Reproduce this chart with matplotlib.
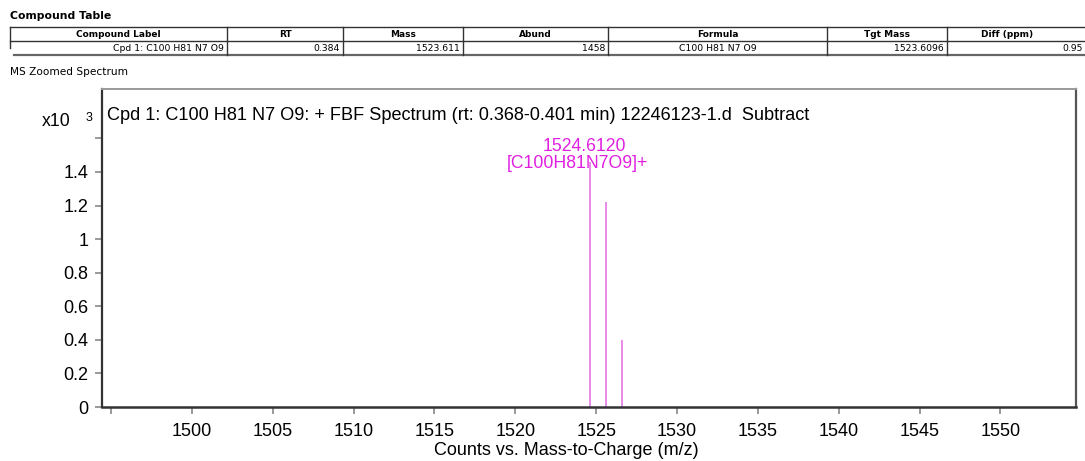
import matplotlib
matplotlib.use("Agg")
import matplotlib.pyplot as plt
from matplotlib.ticker import FixedLocator, FuncFormatter

# Compound table contents
table_title = "Compound Table"
col_headers = ["Compound Label", "RT", "Mass", "Abund", "Formula", "Tgt Mass", "Diff (ppm)"]
row_values = ["Cpd 1: C100 H81 N7 O9", "0.384", "1523.611", "1458", "C100 H81 N7 O9", "1523.6096", "0.95"]
row_align = ["right", "right", "right", "right", "center", "right", "right"]

# Spectrum peaks (m/z, counts)
peak_mz = [1524.612, 1525.615, 1526.618]
peak_counts = [1458, 1221, 400]
peak_label = ["1524.6120", "[C100H81N7O9]+"]

spectrum_title = "Cpd 1: C100 H81 N7 O9: + FBF Spectrum (rt: 0.368-0.401 min) 12246123-1.d  Subtract"
x_ticks = [1495, 1500, 1505, 1510, 1515, 1520, 1525, 1530, 1535, 1540, 1545, 1550]
y_ticks = [0, 200, 400, 600, 800, 1000, 1200, 1400, 1600]

W, H = 1085, 461
fig = plt.figure(figsize=(W / 100, H / 100), dpi=100)

# page layer in pixel coordinates for the report table and free text
page = fig.add_axes([0, 0, 1, 1])
page.set_xlim(0, W)
page.set_ylim(H, 0)
page.axis("off")

tfont = "DejaVu Sans"
page.text(10, 19, table_title, fontsize=7.8, fontweight="bold", family=tfont, va="baseline")

col_edges = [10, 227, 343, 463, 608, 827, 947, 1100]
row_top, row_mid, row_bot = 26.7, 40.7, 54.7
page.plot([col_edges[0], W], [row_top, row_top], color="#333333", lw=1.0)
page.plot([col_edges[0], W], [row_mid, row_mid], color="#333333", lw=1.0)
page.plot([14, W], [row_bot, row_bot], color="#666666", lw=1.6)
page.plot([col_edges[0], col_edges[0]], [row_top, 48], color="#333333", lw=1.0)
for xe in col_edges[1:-1]:
    page.plot([xe, xe], [row_top, row_bot], color="#333333", lw=1.0)

for i, head in enumerate(col_headers):
    cx = (col_edges[i] + col_edges[i + 1]) / 2
    if i == len(col_headers) - 1:
        cx = 1007
    page.text(cx, 37, head, fontsize=6.5, fontweight="bold", family=tfont, ha="center", va="baseline")

for i, val in enumerate(row_values):
    if row_align[i] == "center":
        px = (col_edges[i] + col_edges[i + 1]) / 2
    elif i == len(row_values) - 1:
        px = 1083
    else:
        px = col_edges[i + 1] - 3
    page.text(px, 51, val, fontsize=6.7, family=tfont, ha=row_align[i], va="baseline")

page.text(10, 75, "MS Zoomed Spectrum", fontsize=7.6, family=tfont, va="baseline")

# spectrum panel
mfont = "Liberation Sans"
ax = fig.add_axes([102.5 / W, (H - 407) / H, 973.5 / W, 317.5 / H])
ax.set_xlim(1494.47, 1554.67)
ax.set_ylim(0, 1891)

ax.vlines(peak_mz, 0, peak_counts, color="#E36BE3", lw=1.1)

top = peak_counts[0]
ax.annotate(peak_label[0], xy=(peak_mz[0], top), xytext=(-4, 8), textcoords="offset points",
            ha="center", va="baseline", color="#E020E0", fontsize=12.7, family=mfont)
ax.annotate(peak_label[1], xy=(peak_mz[0], top), xytext=(-9, -4), textcoords="offset points",
            ha="center", va="baseline", color="#E020E0", fontsize=12.7, family=mfont)

ax.text(0.005, 0.905, spectrum_title, transform=ax.transAxes, fontsize=13.1, family=mfont,
        va="baseline")

ax.xaxis.set_major_locator(FixedLocator(x_ticks))
ax.yaxis.set_major_locator(FixedLocator(y_ticks))
ax.xaxis.set_major_formatter(FuncFormatter(lambda v, p: "" if v < 1500 else "%d" % v))
ax.yaxis.set_major_formatter(FuncFormatter(lambda v, p: "" if v > 1500 else "%g" % (v / 1000)))
ax.tick_params(axis="both", direction="out", length=5, width=1.2, color="#888888",
               labelsize=13)
ax.tick_params(axis="x", pad=6.5)
ax.tick_params(axis="y", pad=5)
for lab in ax.get_xticklabels() + ax.get_yticklabels():
    lab.set_family(mfont)

ax.spines["left"].set_color("#333333")
ax.spines["bottom"].set_color("#333333")
ax.spines["left"].set_linewidth(1.6)
ax.spines["bottom"].set_linewidth(1.8)
ax.spines["top"].set_color("#999999")
ax.spines["top"].set_linewidth(1.4)
ax.spines["right"].set_color("#555555")
ax.spines["right"].set_linewidth(1.6)

# multiplier and axis title
page.text(42, 126, "x10", fontsize=12.7, family=mfont, va="baseline")
page.text(86, 121, "3", fontsize=9, family=mfont, va="baseline")
page.text(566, 455, "Counts vs. Mass-to-Charge (m/z)", fontsize=13, family=mfont,
          ha="center", va="baseline")

fig.savefig("out.png", dpi=100)
